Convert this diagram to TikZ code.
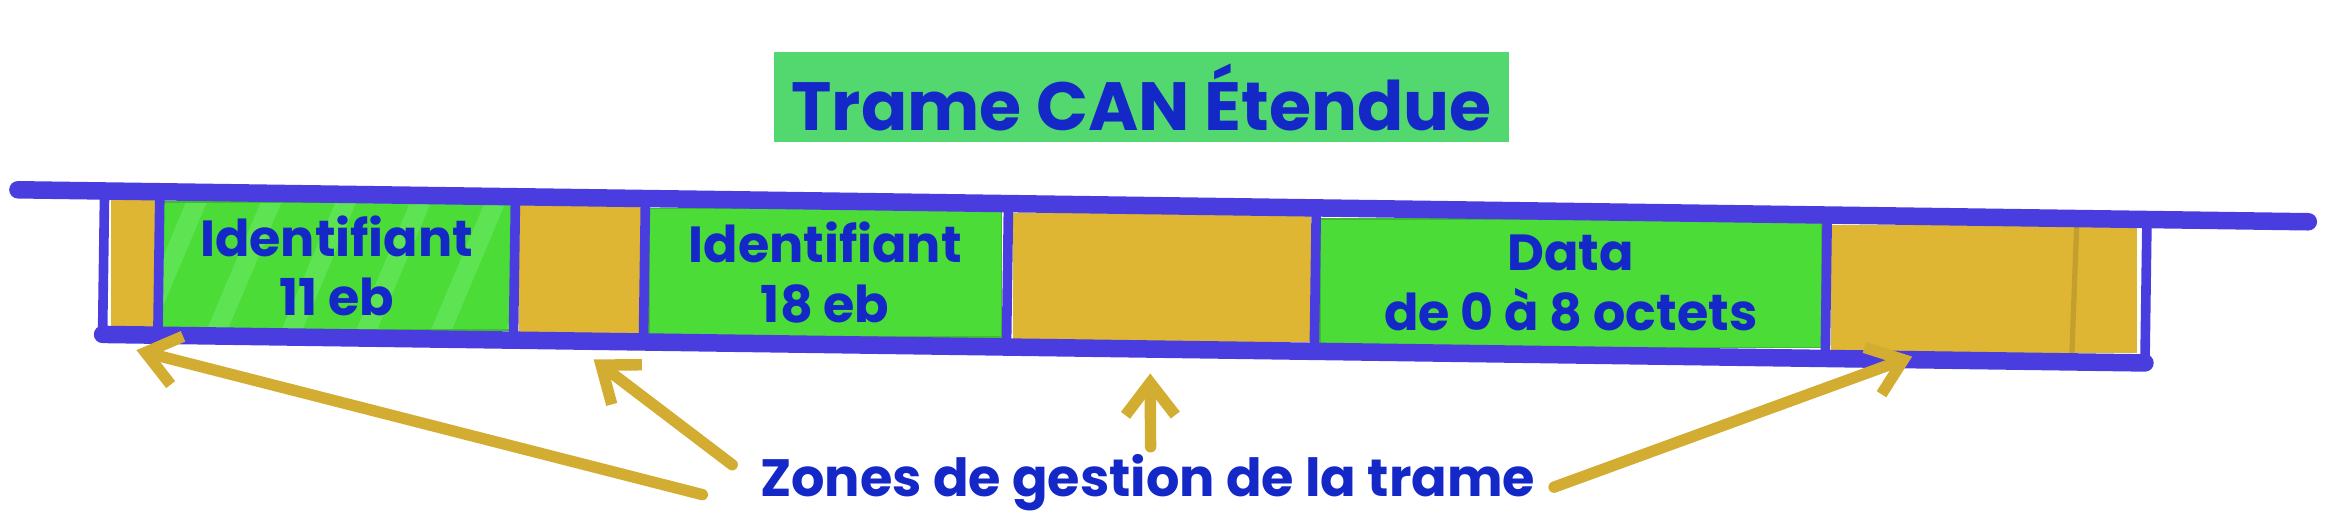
\documentclass[tikz,border=0pt]{standalone}
\usepackage{fontspec}
\setmainfont{Poppins}
\usetikzlibrary{arrows.meta}
\definecolor{frameblue}{HTML}{4A3DE0}
\definecolor{textblue}{HTML}{1428C8}
\definecolor{fieldgreen}{HTML}{4BDC37}
\definecolor{stripegreen}{HTML}{5EE352}
\definecolor{titlegreen}{HTML}{52D86E}
\definecolor{zonegold}{HTML}{DEB634}
\tikzset{
  frameline/.style={frameblue, line width=10pt, line cap=round, line join=round},
  divider/.style={frameblue, line width=5.5pt, line cap=round},
  zonebox/.style={fill=zonegold, inner sep=0pt, minimum height=2.58cm},
  fieldbox/.style={fill=fieldgreen, draw=fieldgreen!85!black, line width=1pt, inner sep=0pt,
    minimum height=2.58cm, text=textblue, align=center,
    font=\bfseries\fontsize{29}{34}\selectfont},
  zonearrow/.style={zonegold!95!black, line width=6.5pt, line cap=round,
    -{Straight Barb[length=0.65cm,width=1.0cm]}},
}
\begin{document}
\begin{tikzpicture}[x=0.03cm, y=-0.03cm]
    \useasboundingbox (0,0) rectangle (1568,356);
    \node[fill=titlegreen, minimum width=14.76cm, minimum height=1.8cm, text=textblue,
      font=\bfseries\fontsize{39}{45}\selectfont] (title) at (764,65) {Trame CAN Étendue};
    \begin{scope}[rotate around={-0.8:(12,127)}]
	\node[zonebox, minimum width=0.9cm] (b1) at (90,175) {};
	\node[fieldbox, minimum width=7.02cm, path picture={
	    \foreach \s in {-20,30,...,230}
	      \fill[stripegreen] ([xshift=\s*0.03cm]path picture bounding box.south west)
	        -- ++(14,0) -- ++(38,-90) -- ++(-14,0) -- cycle;
	  }] (id1) at (226,175) {Identifiant\\11 eb};
	\node[zonebox, minimum width=2.46cm] (b2) at (389,175) {};
	\node[fieldbox, minimum width=7.08cm] (id2) at (553,175) {Identifiant\\18 eb};
	\node[zonebox, minimum width=5.97cm] (b3) at (778.5,175) {};
	\node[fieldbox, minimum width=10.08cm] (data) at (1052,175) {Data\\de 0 à 8 octets};
	\node[zonebox, minimum width=6.15cm] (b4) at (1328.5,175) {};
	\draw[zonegold!80!black, line width=3pt, opacity=0.6] (1390,132) -- (1388,218);
	\draw[frameline] (12,127) -- (1545,127);
	\draw[frameline] (70,223) -- (1437,223);
	\draw[divider] (70,127) -- (70,223);
	\draw[divider] (1437,127) -- (1437,223);
	\foreach \x in {107,345,432,675,881,1223}
	    \draw[divider] (\x,127) -- (\x,223);
    \end{scope}
    \node[text=textblue, font=\bfseries\fontsize{30}{36}\selectfont] (zones) at (768,323) {Zones de gestion de la trame};
    \draw[zonearrow] ([shift={(-298,8)}]zones.center) -- ([shift={(2,15)}]b1.south);
    \draw[zonearrow] ([shift={(-278,-12)}]zones.center) -- ([shift={(9,17)}]b2.south);
    \draw[zonearrow] ([shift={(2,-24)}]zones.center) -- ([shift={(-8,21)}]b3.south);
    \draw[zonearrow] ([shift={(272,3)}]zones.center) -- ([shift={(-48,2)}]b4.south);
\end{tikzpicture}
\end{document}
